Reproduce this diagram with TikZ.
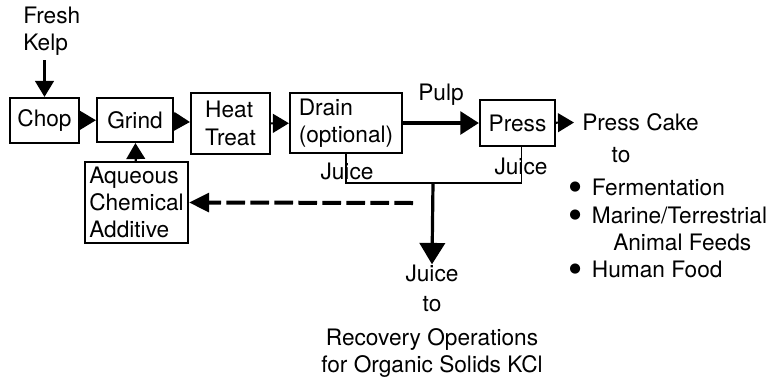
\documentclass[tikz,border=0pt]{standalone}
\usepackage{fontspec}
\setmainfont{TeX Gyre Heros}
\newfontfamily\symfont{DejaVu Sans}
\usetikzlibrary{arrows.meta,positioning,calc}

\newcommand{\bigdot}{\makebox[17pt][l]{\raisebox{3.8pt}{\symfont\fontsize{10}{10}\selectfont ●}}}

\begin{document}
\begin{tikzpicture}[x=0.75pt,y=-0.75pt,
    every node/.style={font=\fontsize{17}{20.5}\selectfont},
    unitbox/.style={draw,line width=1.6pt,inner sep=2pt,align=left},
    flow/.style={line width=1.6pt,-{Triangle[length=12pt,width=14pt]}},
    juiceline/.style={line width=0.9pt}]
    \useasboundingbox (0,0) rectangle (772,379);

    % Process units
    \node[unitbox,minimum width=51.75pt,minimum height=33.75pt] (chop) at (44.5,120.5) {Chop};
    \node[unitbox,minimum width=57pt,minimum height=33pt] (grind) at (135,120) {Grind};
    \node[unitbox,minimum width=59.25pt,minimum height=45.75pt] (heat) at (230.5,123.5) {Heat\\Treat};
    \node[unitbox,minimum width=84pt,minimum height=45pt] (drain) at (346,123) {Drain\\(optional)};
    \node[unitbox,minimum width=56.25pt,minimum height=34.5pt] (press) at (517.5,123) {Press};
    \node[unitbox,minimum width=77.25pt,minimum height=60.75pt] (additive) at (136.5,202.5) {Aqueous\\Chemical\\Additive};

    % Feed and products
    \node[anchor=west,align=left,inner sep=0pt] (kelp) at (23,31.5) {Fresh\\Kelp};
    \node[anchor=west,inner sep=0pt] (cake) at (582,122) {Press Cake};
    \node[inner sep=0pt] (caketo) at (621,155) {to};
    \node[anchor=north west,align=left,inner sep=0pt] (uses) at (569,179)
        {\bigdot Fermentation\\
         \bigdot Marine/Terrestrial\\
         \hspace{33pt}Animal Feeds\\
         \bigdot Human Food};
    \node[inner sep=0pt] (juiceout) at (432,273) {Juice};
    \node[inner sep=0pt] (juiceto) at (432,304) {to};
    \node[align=center,inner sep=0pt] (recovery) at (432,353) {Recovery Operations\\for Organic Solids KCl};

    % Juice streams
    \node[inner sep=0pt] (juiceA) at (347,171) {Juice};
    \node[inner sep=0pt] (juiceB) at (521,166) {Juice};
    \coordinate (split) at (433,183);
    \draw[juiceline] (drain.south) |- (split) -| ($(press.south)+(4,0)$);

    % Main flow
    \draw[flow] (kelp.south -| chop.north) ++(0,4) -- (chop.north);
    \draw[flow] (chop) -- (grind);
    \draw[flow] (grind) -- (heat);
    \draw[flow] (heat) -- (drain);
    \draw[line width=3pt,-{Triangle[length=14pt,width=17pt]}] (drain) -- (press)
        node[midway,above=8pt] (pulp) {Pulp};
    \draw[flow,shorten >=6pt] (press) -- (cake);
    \draw[flow] (additive) -- (grind);
    \draw[line width=2.4pt,-{Triangle[length=16pt,width=19pt]}] (split) -- (juiceout.north);

    % Recycle
    \draw[line width=3pt,dash pattern=on 14pt off 4pt,-{Triangle[length=15pt,width=14pt]}]
        (413,203) -- (additive.east);
\end{tikzpicture}
\end{document}
